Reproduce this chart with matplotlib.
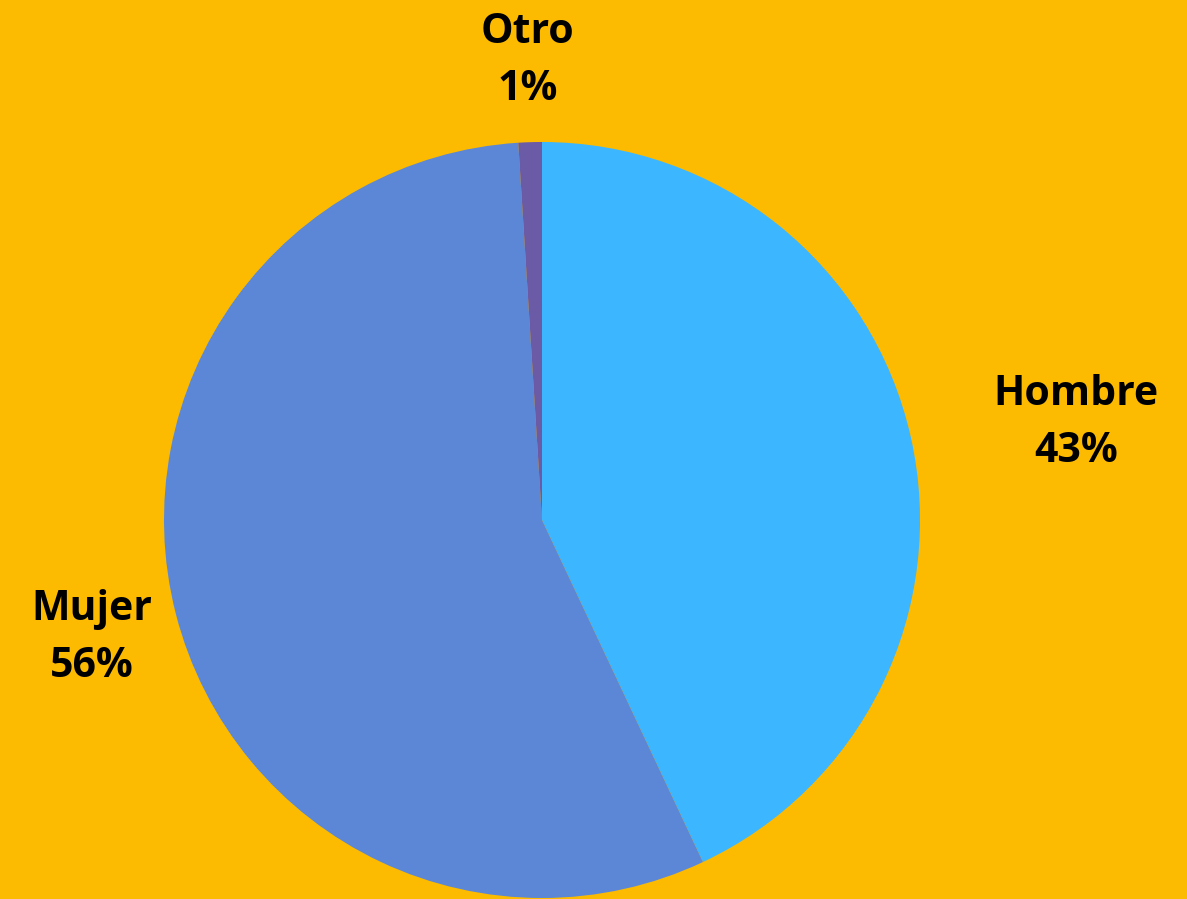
"""Pie chart: distribución por género."""

import numpy as np
import matplotlib
matplotlib.use("Agg")
import matplotlib.pyplot as plt

labels = ["Hombre", "Mujer", "Otro"]
values = [43, 56, 1]
colors = ["#3BB6FF", "#5B87D6", "#6B5BA6"]
BG = "#FCBA00"

W, H = 1187, 899
CX, CY, R = 542, 520, 378  # pixel center / radius of the pie

fig = plt.figure(figsize=(W / 100, H / 100), dpi=100, facecolor=BG)
ax = fig.add_axes([0, 0, 1, 1])
ax.set_facecolor(BG)

wedges, _ = ax.pie(values, colors=colors, startangle=90, counterclock=False,
                   wedgeprops=dict(linewidth=0))

ax.set_aspect("auto")
ax.set_xlim(-CX / R, (W - CX) / R)
ax.set_ylim(-(H - CY) / R, CY / R)
ax.axis("off")

# label distance from centre (in radii) and angular nudge, per slice
dist = [1.436, 1.23, 1.215]
nudge = [-2.3, 0.3, 0.0]
for w, lab, v, d, dn in zip(wedges, labels, values, dist, nudge):
    ang = np.deg2rad((w.theta1 + w.theta2) / 2 + dn)
    ax.text(d * np.cos(ang), d * np.sin(ang), f"{lab}\n{v}%",
            ha="center", va="center", fontsize=29.5, fontweight="bold",
            family="Open Sans", linespacing=1.5, color="black")

fig.savefig("out.png", dpi=100, facecolor=BG)
